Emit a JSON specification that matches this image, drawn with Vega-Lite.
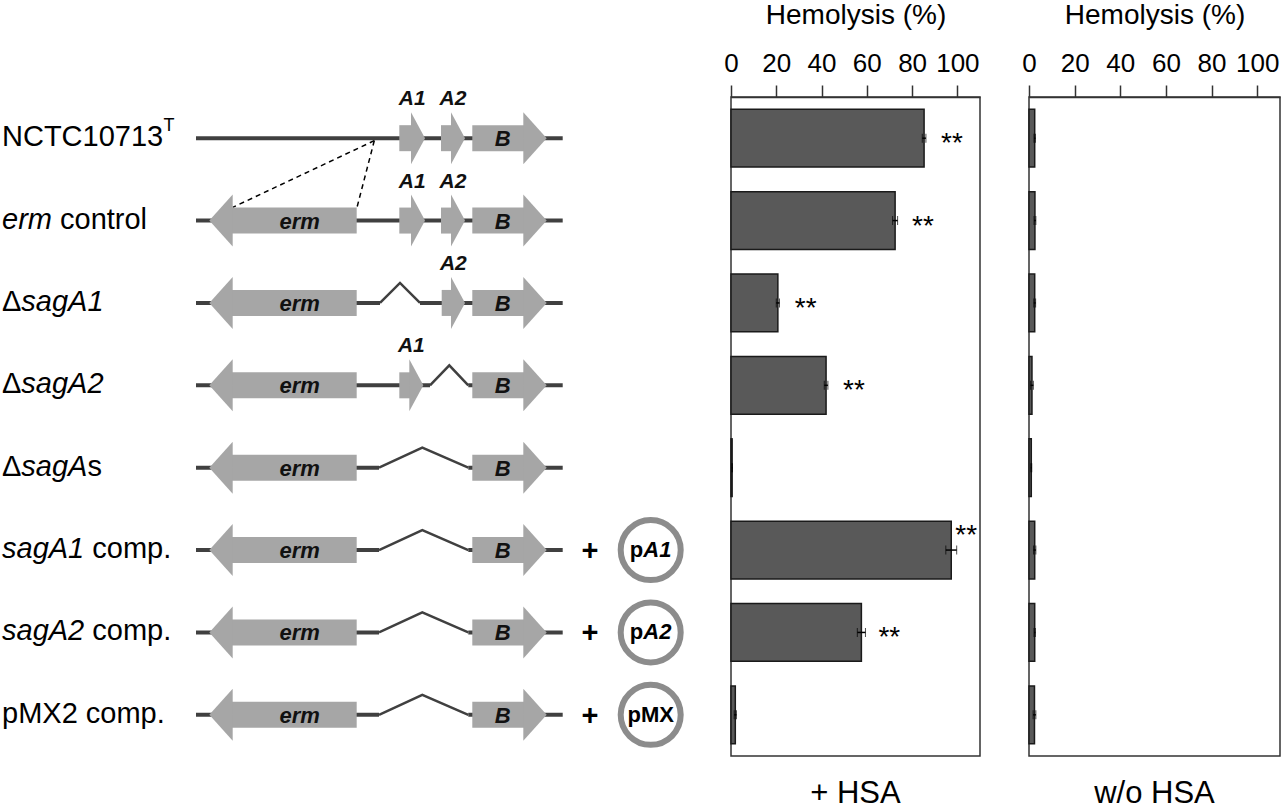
{
  "$schema": "https://vega.github.io/schema/vega-lite/v6.json",
  "padding": {"top": 0, "left": 0, "right": 0, "bottom": 0},
  "background": "white",
  "bounds": "flush",
  "spacing": 49,
  "config": {"font": "Liberation Sans", "view": {"stroke": null}},
  "datasets": {
    "backbone": [
      {"row": 1, "from": 196, "to": 562.7},
      {"row": 2, "from": 196, "to": 562.7},
      {"row": 3, "from": 196, "to": 380},
      {"row": 3, "from": 420, "to": 562.7},
      {"row": 4, "from": 196, "to": 430},
      {"row": 4, "from": 468.3, "to": 562.7},
      {"row": 5, "from": 196, "to": 379},
      {"row": 5, "from": 468.3, "to": 562.7},
      {"row": 6, "from": 196, "to": 379},
      {"row": 6, "from": 468.3, "to": 562.7},
      {"row": 7, "from": 196, "to": 379},
      {"row": 7, "from": 468.3, "to": 562.7},
      {"row": 8, "from": 196, "to": 379},
      {"row": 8, "from": 468.3, "to": 562.7}
    ],
    "hats": [
      {"row": 3, "x": 380, "y": 3}, {"row": 3, "x": 400, "y": 2.757}, {"row": 3, "x": 420, "y": 3},
      {"row": 4, "x": 430, "y": 4}, {"row": 4, "x": 449.3, "y": 3.757}, {"row": 4, "x": 468.3, "y": 4},
      {"row": 5, "x": 379, "y": 5}, {"row": 5, "x": 422.3, "y": 4.757}, {"row": 5, "x": 468.3, "y": 5},
      {"row": 6, "x": 379, "y": 6}, {"row": 6, "x": 422.3, "y": 5.757}, {"row": 6, "x": 468.3, "y": 6},
      {"row": 7, "x": 379, "y": 7}, {"row": 7, "x": 422.3, "y": 6.757}, {"row": 7, "x": 468.3, "y": 7},
      {"row": 8, "x": 379, "y": 8}, {"row": 8, "x": 422.3, "y": 7.757}, {"row": 8, "x": 468.3, "y": 8}
    ],
    "dashes": [
      {"x": 374.3, "y": 1.03, "x2": 232.7, "y2": 1.84},
      {"x": 374.3, "y": 1.03, "x2": 357, "y2": 1.84}
    ],
    "genes": [
      {"row": 1, "gene": "A1", "start": 399.3, "end": 425},
      {"row": 1, "gene": "A2", "start": 441, "end": 465},
      {"row": 1, "gene": "B", "start": 472.3, "end": 546.7},
      {"row": 2, "gene": "erm", "start": 356.7, "end": 209.3},
      {"row": 2, "gene": "A1", "start": 399.3, "end": 425},
      {"row": 2, "gene": "A2", "start": 441, "end": 465},
      {"row": 2, "gene": "B", "start": 472.3, "end": 546.7},
      {"row": 3, "gene": "erm", "start": 356.7, "end": 209.3},
      {"row": 3, "gene": "A2", "start": 441.7, "end": 465},
      {"row": 3, "gene": "B", "start": 472.3, "end": 546.7},
      {"row": 4, "gene": "erm", "start": 356.7, "end": 209.3},
      {"row": 4, "gene": "A1", "start": 399.3, "end": 423.3},
      {"row": 4, "gene": "B", "start": 472.3, "end": 546.7},
      {"row": 5, "gene": "erm", "start": 356.7, "end": 209.3},
      {"row": 5, "gene": "B", "start": 472.3, "end": 546.7},
      {"row": 6, "gene": "erm", "start": 356.7, "end": 209.3},
      {"row": 6, "gene": "B", "start": 472.3, "end": 546.7},
      {"row": 7, "gene": "erm", "start": 356.7, "end": 209.3},
      {"row": 7, "gene": "B", "start": 472.3, "end": 546.7},
      {"row": 8, "gene": "erm", "start": 356.7, "end": 209.3},
      {"row": 8, "gene": "B", "start": 472.3, "end": 546.7}
    ],
    "plasmids": [
      {"row": 6, "plus": 590, "ring": 650.7},
      {"row": 7, "plus": 590, "ring": 650.7},
      {"row": 8, "plus": 590, "ring": 650.7}
    ],
    "plabels": [
      {"row": 6, "x": 643.3, "text": "p", "style": "p"},
      {"row": 6, "x": 643.3, "text": "A1", "style": "i"},
      {"row": 7, "x": 643.3, "text": "p", "style": "p"},
      {"row": 7, "x": 643.3, "text": "A2", "style": "i"},
      {"row": 8, "x": 650.7, "text": "pMX", "style": "c"}
    ],
    "labels": [
      {"row": 1, "x": 2, "text": "NCTC10713", "style": "n"},
      {"row": 1, "x": 163.5, "text": "T", "style": "sup"},
      {"row": 2, "x": 2, "text": "erm", "style": "i"},
      {"row": 2, "x": 60, "text": "control", "style": "n"},
      {"row": 3, "x": 2, "text": "Δ", "style": "n"},
      {"row": 3, "x": 21.3, "text": "sagA1", "style": "i"},
      {"row": 4, "x": 2, "text": "Δ", "style": "n"},
      {"row": 4, "x": 21.3, "text": "sagA2", "style": "i"},
      {"row": 5, "x": 2, "text": "Δ", "style": "n"},
      {"row": 5, "x": 21.3, "text": "sagA", "style": "i"},
      {"row": 5, "x": 87.4, "text": "s", "style": "n"},
      {"row": 6, "x": 2, "text": "sagA1", "style": "i"},
      {"row": 6, "x": 92.3, "text": "comp.", "style": "n"},
      {"row": 7, "x": 2, "text": "sagA2", "style": "i"},
      {"row": 7, "x": 92.3, "text": "comp.", "style": "n"},
      {"row": 8, "x": 2, "text": "pMX2 comp.", "style": "n"}
    ],
    "hemo": [
      {"strain": "NCTC10713T", "cond": "HSA", "mean": 85.3, "sd": 0.8, "sig": "**"},
      {"strain": "erm control", "cond": "HSA", "mean": 72.5, "sd": 1.1, "sig": "**"},
      {"strain": "ΔsagA1", "cond": "HSA", "mean": 20.7, "sd": 0.7, "sig": "**"},
      {"strain": "ΔsagA2", "cond": "HSA", "mean": 42.0, "sd": 0.8, "sig": "**"},
      {"strain": "ΔsagAs", "cond": "HSA", "mean": 0.5, "sd": 0.1, "sig": ""},
      {"strain": "sagA1 comp.", "cond": "HSA", "mean": 97.3, "sd": 2.4, "sig": "**"},
      {"strain": "sagA2 comp.", "cond": "HSA", "mean": 57.6, "sd": 1.8, "sig": "**"},
      {"strain": "pMX2 comp.", "cond": "HSA", "mean": 1.9, "sd": 0.5, "sig": ""},
      {"strain": "NCTC10713T", "cond": "noHSA", "mean": 2.5, "sd": 0.3, "sig": ""},
      {"strain": "erm control", "cond": "noHSA", "mean": 2.6, "sd": 0.4, "sig": ""},
      {"strain": "ΔsagA1", "cond": "noHSA", "mean": 2.5, "sd": 0.4, "sig": ""},
      {"strain": "ΔsagA2", "cond": "noHSA", "mean": 1.3, "sd": 0.6, "sig": ""},
      {"strain": "ΔsagAs", "cond": "noHSA", "mean": 1.0, "sd": 0.2, "sig": ""},
      {"strain": "sagA1 comp.", "cond": "noHSA", "mean": 2.5, "sd": 0.5, "sig": ""},
      {"strain": "sagA2 comp.", "cond": "noHSA", "mean": 2.5, "sd": 0.3, "sig": ""},
      {"strain": "pMX2 comp.", "cond": "noHSA", "mean": 2.4, "sd": 0.6, "sig": ""}
    ]
  },
  "hconcat": [
    {
      "width": 682,
      "height": 659,
      "layer": [
        {
          "data": {"name": "backbone"},
          "mark": {"type": "rule", "color": "#404040", "strokeWidth": 4},
          "encoding": {
            "x": {"field": "from", "type": "quantitative", "scale": {"domain": [0, 682], "nice": false, "zero": false}, "axis": null},
            "x2": {"field": "to"},
            "y": {"field": "row", "type": "quantitative", "scale": {"domain": [0.5, 8.5], "reverse": true, "nice": false, "zero": false}, "axis": null}
          }
        },
        {
          "data": {"name": "hats"},
          "mark": {"type": "line", "color": "#404040", "strokeWidth": 2.5},
          "encoding": {
            "x": {"field": "x", "type": "quantitative"},
            "y": {"field": "y", "type": "quantitative"},
            "detail": {"field": "row", "type": "nominal"}
          }
        },
        {
          "data": {"name": "dashes"},
          "mark": {"type": "rule", "color": "black", "strokeWidth": 1.5, "strokeDash": [5, 4]},
          "encoding": {
            "x": {"field": "x", "type": "quantitative"},
            "y": {"field": "y", "type": "quantitative"},
            "x2": {"field": "x2"},
            "y2": {"field": "y2"}
          }
        },
        {
          "data": {"name": "genes"},
          "transform": [
            {"calculate": "datum.end > datum.start ? 1 : -1", "as": "dir"},
            {"calculate": "(datum.gene == 'A1' || datum.gene == 'A2') ? 14 : 23.4", "as": "hl"},
            {"calculate": "datum.end - datum.dir * datum.hl", "as": "base"},
            {"calculate": "datum.base + datum.dir", "as": "bodyEnd"}
          ],
          "mark": {"type": "rule", "color": "#a6a6a6", "strokeWidth": 26, "strokeCap": "butt"},
          "encoding": {
            "x": {"field": "start", "type": "quantitative"},
            "x2": {"field": "bodyEnd"},
            "y": {"field": "row", "type": "quantitative"}
          }
        },
        {
          "data": {"name": "genes"},
          "transform": [
            {"filter": "datum.gene == 'B'"},
            {"calculate": "datum.end - 23.4", "as": "base"}
          ],
          "mark": {"type": "point", "shape": "M0,-1L0.9,0L0,1Z", "size": 2704, "filled": true, "fill": "#a6a6a6", "strokeWidth": 0, "opacity": 1},
          "encoding": {
            "x": {"field": "base", "type": "quantitative"},
            "y": {"field": "row", "type": "quantitative"}
          }
        },
        {
          "data": {"name": "genes"},
          "transform": [
            {"filter": "datum.gene == 'A1' || datum.gene == 'A2'"},
            {"calculate": "datum.end - 14", "as": "base"}
          ],
          "mark": {"type": "point", "shape": "M0,-1L0.54,0L0,1Z", "size": 2704, "filled": true, "fill": "#a6a6a6", "strokeWidth": 0, "opacity": 1},
          "encoding": {
            "x": {"field": "base", "type": "quantitative"},
            "y": {"field": "row", "type": "quantitative"}
          }
        },
        {
          "data": {"name": "genes"},
          "transform": [
            {"filter": "datum.gene == 'erm'"},
            {"calculate": "datum.end + 23.4", "as": "base"}
          ],
          "mark": {"type": "point", "shape": "M0,-1L-0.9,0L0,1Z", "size": 2704, "filled": true, "fill": "#a6a6a6", "strokeWidth": 0, "opacity": 1},
          "encoding": {
            "x": {"field": "base", "type": "quantitative"},
            "y": {"field": "row", "type": "quantitative"}
          }
        },
        {
          "data": {"name": "genes"},
          "transform": [
            {"filter": "datum.gene == 'erm' || datum.gene == 'B'"},
            {"calculate": "datum.end > datum.start ? 1 : -1", "as": "dir"},
            {"calculate": "(datum.start + datum.end - datum.dir * 23.4) / 2", "as": "mid"}
          ],
          "mark": {"type": "text", "fontSize": 22, "fontWeight": "bold", "fontStyle": "italic", "color": "#111", "align": "center", "baseline": "middle", "dx": 5, "dy": 1},
          "encoding": {
            "x": {"field": "mid", "type": "quantitative"},
            "y": {"field": "row", "type": "quantitative"},
            "text": {"field": "gene"}
          }
        },
        {
          "data": {"name": "genes"},
          "transform": [
            {"filter": "datum.gene == 'A1' || datum.gene == 'A2'"},
            {"calculate": "(datum.start + datum.end) / 2", "as": "mid"}
          ],
          "mark": {"type": "text", "fontSize": 21, "fontWeight": "bold", "fontStyle": "italic", "color": "#111", "align": "center", "baseline": "middle", "dy": -39},
          "encoding": {
            "x": {"field": "mid", "type": "quantitative"},
            "y": {"field": "row", "type": "quantitative"},
            "text": {"field": "gene"}
          }
        },
        {
          "data": {"name": "plasmids"},
          "mark": {"type": "text", "text": "+", "fontSize": 29, "fontWeight": "bold", "color": "black", "align": "center", "baseline": "middle", "dy": 1},
          "encoding": {
            "x": {"field": "plus", "type": "quantitative"},
            "y": {"field": "row", "type": "quantitative"}
          }
        },
        {
          "data": {"name": "plasmids"},
          "mark": {"type": "point", "shape": "circle", "size": 3600, "filled": false, "stroke": "#8c8c8c", "strokeWidth": 6, "opacity": 1},
          "encoding": {
            "x": {"field": "ring", "type": "quantitative"},
            "y": {"field": "row", "type": "quantitative"}
          }
        },
        {
          "data": {"name": "plabels"},
          "transform": [{"filter": "datum.style == 'p'"}],
          "mark": {"type": "text", "fontSize": 22, "fontWeight": "bold", "color": "black", "align": "right", "baseline": "middle"},
          "encoding": {
            "x": {"field": "x", "type": "quantitative"},
            "y": {"field": "row", "type": "quantitative"},
            "text": {"field": "text"}
          }
        },
        {
          "data": {"name": "plabels"},
          "transform": [{"filter": "datum.style == 'i'"}],
          "mark": {"type": "text", "fontSize": 22, "fontWeight": "bold", "fontStyle": "italic", "color": "black", "align": "left", "baseline": "middle"},
          "encoding": {
            "x": {"field": "x", "type": "quantitative"},
            "y": {"field": "row", "type": "quantitative"},
            "text": {"field": "text"}
          }
        },
        {
          "data": {"name": "plabels"},
          "transform": [{"filter": "datum.style == 'c'"}],
          "mark": {"type": "text", "fontSize": 22, "fontWeight": "bold", "color": "black", "align": "center", "baseline": "middle"},
          "encoding": {
            "x": {"field": "x", "type": "quantitative"},
            "y": {"field": "row", "type": "quantitative"},
            "text": {"field": "text"}
          }
        },
        {
          "data": {"name": "labels"},
          "transform": [{"filter": "datum.style == 'n'"}],
          "mark": {"type": "text", "fontSize": 29, "color": "black", "align": "left", "baseline": "middle", "dy": -1},
          "encoding": {
            "x": {"field": "x", "type": "quantitative"},
            "y": {"field": "row", "type": "quantitative"},
            "text": {"field": "text"}
          }
        },
        {
          "data": {"name": "labels"},
          "transform": [{"filter": "datum.style == 'i'"}],
          "mark": {"type": "text", "fontSize": 29, "fontStyle": "italic", "color": "black", "align": "left", "baseline": "middle", "dy": -1},
          "encoding": {
            "x": {"field": "x", "type": "quantitative"},
            "y": {"field": "row", "type": "quantitative"},
            "text": {"field": "text"}
          }
        },
        {
          "data": {"name": "labels"},
          "transform": [{"filter": "datum.style == 'sup'"}],
          "mark": {"type": "text", "fontSize": 18, "color": "black", "align": "left", "baseline": "middle", "dy": -12},
          "encoding": {
            "x": {"field": "x", "type": "quantitative"},
            "y": {"field": "row", "type": "quantitative"},
            "text": {"field": "text"}
          }
        }
      ]
    },
    {
      "width": 249,
      "height": 659,
      "view": {"stroke": "#333333", "strokeWidth": 1.5},
      "title": {"text": "+ HSA", "orient": "bottom", "fontSize": 31, "fontWeight": "normal", "offset": 23, "anchor": "middle", "color": "black"},
      "data": {"name": "hemo"},
      "transform": [{"filter": "datum.cond == 'HSA'"}],
      "encoding": {
        "y": {"field": "strain", "type": "nominal", "sort": ["NCTC10713T", "erm control", "ΔsagA1", "ΔsagA2", "ΔsagAs", "sagA1 comp.", "sagA2 comp.", "pMX2 comp."], "scale": {"paddingInner": 0.3, "paddingOuter": 0.15}, "axis": null},
        "x": {"field": "mean", "type": "quantitative", "scale": {"domain": [0, 110], "nice": false},
          "axis": {"orient": "top", "values": [0, 20, 40, 60, 80, 100], "title": "Hemolysis (%)", "tickSize": 12, "tickWidth": 1.5, "tickColor": "#333333", "domainColor": "#333333", "domainWidth": 1.5, "labelFontSize": 26, "labelColor": "black", "labelPadding": 9, "labelFlush": false, "titleFontSize": 28, "titleFontWeight": "normal", "titleColor": "black", "titlePadding": 21, "grid": false}}
      },
      "layer": [
        {"mark": {"type": "bar", "color": "#595959", "stroke": "#1a1a1a", "strokeWidth": 1.5}},
        {"mark": {"type": "errorbar", "color": "black", "ticks": {"size": 9, "strokeWidth": 1.5, "color": "black"}, "rule": {"strokeWidth": 1.5, "color": "black"}},
         "encoding": {"xError": {"field": "sd"}}},
        {"transform": [{"filter": "datum.sig != '' && datum.mean < 90"}],
         "mark": {"type": "text", "align": "left", "baseline": "alphabetic", "dx": 17, "dy": 14, "fontSize": 28, "color": "black"},
         "encoding": {"text": {"field": "sig"}}},
        {"transform": [{"filter": "datum.sig != '' && datum.mean >= 90"}],
         "mark": {"type": "text", "align": "left", "baseline": "alphabetic", "dx": 4, "dy": -6, "fontSize": 28, "color": "black"},
         "encoding": {"text": {"field": "sig"}}}
      ]
    },
    {
      "width": 251,
      "height": 659,
      "view": {"stroke": "#333333", "strokeWidth": 1.5},
      "title": {"text": "w/o HSA", "orient": "bottom", "fontSize": 31, "fontWeight": "normal", "offset": 23, "anchor": "middle", "color": "black"},
      "data": {"name": "hemo"},
      "transform": [{"filter": "datum.cond == 'noHSA'"}],
      "encoding": {
        "y": {"field": "strain", "type": "nominal", "sort": ["NCTC10713T", "erm control", "ΔsagA1", "ΔsagA2", "ΔsagAs", "sagA1 comp.", "sagA2 comp.", "pMX2 comp."], "scale": {"paddingInner": 0.3, "paddingOuter": 0.15}, "axis": null},
        "x": {"field": "mean", "type": "quantitative", "scale": {"domain": [0, 110], "nice": false},
          "axis": {"orient": "top", "values": [0, 20, 40, 60, 80, 100], "title": "Hemolysis (%)", "tickSize": 12, "tickWidth": 1.5, "tickColor": "#333333", "domainColor": "#333333", "domainWidth": 1.5, "labelFontSize": 26, "labelColor": "black", "labelPadding": 9, "labelFlush": false, "titleFontSize": 28, "titleFontWeight": "normal", "titleColor": "black", "titlePadding": 21, "grid": false}}
      },
      "layer": [
        {"mark": {"type": "bar", "color": "#595959", "stroke": "#1a1a1a", "strokeWidth": 1.5}},
        {"mark": {"type": "errorbar", "color": "black", "ticks": {"size": 9, "strokeWidth": 1.5, "color": "black"}, "rule": {"strokeWidth": 1.5, "color": "black"}},
         "encoding": {"xError": {"field": "sd"}}}
      ]
    }
  ]
}
